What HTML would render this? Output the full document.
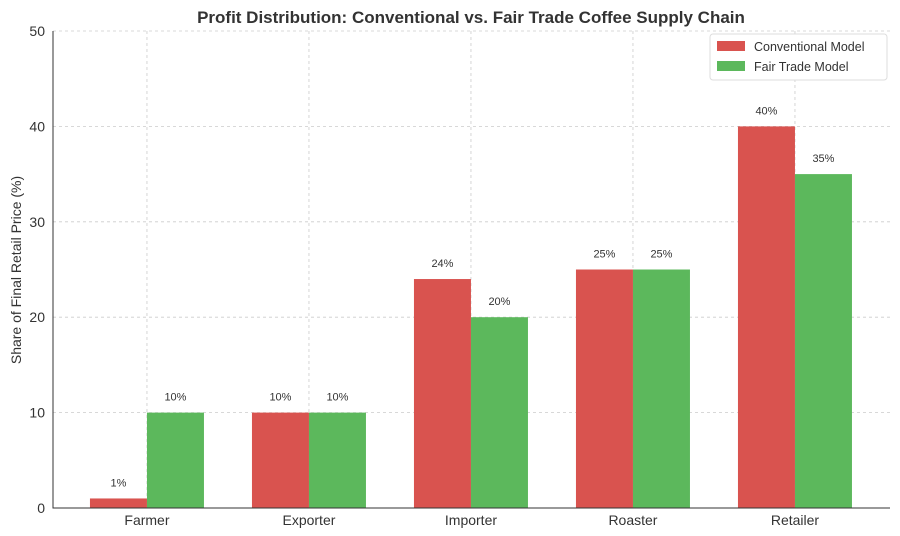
<!DOCTYPE html>
<html><head><meta charset="utf-8"><style>
body{margin:0;background:#fff;}
svg{display:block;font-family:"Liberation Sans","DejaVu Sans",sans-serif;}
</style></head><body>
<svg id="chart" width="900" height="536"></svg>
<script>
const categories=["Farmer","Exporter","Importer","Roaster","Retailer"];
const conventional=[1,10,24,25,40];
const fairTrade=[10,10,20,25,35];
const yTicks=[0,10,20,30,40,50];
const seriesNames=["Conventional Model","Fair Trade Model"];
const NS="http://www.w3.org/2000/svg";
const svg=document.getElementById("chart");
const L=53,R=890,T=31,B=508;
const xs=i=>L+(i+0.58)*162;
const ys=v=>B-(v/50)*(B-T);
const bw=57;
function mk(tag,attrs,parent){const e=document.createElementNS(NS,tag);for(const k in attrs)e.setAttribute(k,attrs[k]);(parent||svg).appendChild(e);return e;}
// grid
yTicks.forEach(t=>{
 const g=mk("line",{x1:L,x2:R,y1:ys(t),y2:ys(t),stroke:"#ccc","stroke-dasharray":"3,3","stroke-width":0.8});
 
 
 const tx=mk("text",{x:L-8,y:ys(t)+5,"text-anchor":"end","font-size":14,fill:"#333"});
 tx.textContent=t;
 
 
});
categories.forEach((c,i)=>{
 const g=mk("line",{x1:xs(i),x2:xs(i),y1:T,y2:B,stroke:"#ccc","stroke-dasharray":"3,3","stroke-width":0.8});
 
 
 const tx=mk("text",{x:xs(i),y:B+17,"text-anchor":"middle","font-size":14,fill:"#333"});
 tx.textContent=c;
 
 
});
// bars
function bars(vals,off,color,name){
 vals.forEach((v,i)=>{
  const x=xs(i)+off;
  const r=mk("rect",{x:x,y:ys(v),width:bw,height:B-ys(v),fill:color});
  
  
  const t=mk("text",{x:x+bw/2,y:ys(v)-12,"text-anchor":"middle","font-size":11,fill:"#333"});
  t.textContent=v+"%";
  
  
 });
}
bars(conventional,-bw,"#d9534f","conventional");
bars(fairTrade,0,"#5cb85c","fair-trade");
// axes
const ax=mk("path",{d:`M${L},${T} L${L},${B} L${R},${B}`,fill:"none",stroke:"#333","stroke-width":1});


const ti=mk("text",{x:471,y:23,"text-anchor":"middle","font-size":17,"font-weight":"bold",fill:"#333"});
ti.textContent="Profit Distribution: Conventional vs. Fair Trade Coffee Supply Chain";


const yl=mk("text",{x:0,y:0,transform:"translate(21,270) rotate(-90)","text-anchor":"middle","font-size":14,fill:"#333"});
yl.textContent="Share of Final Retail Price (%)";


// legend
const lg=mk("rect",{x:710,y:34,width:177,height:46,fill:"#fff",stroke:"#ddd",rx:3});


["#d9534f","#5cb85c"].forEach((c,i)=>{
 const s=mk("rect",{x:717,y:41+i*20,width:28,height:10,fill:c});
 
 
 const t=mk("text",{x:754,y:51+i*20,"font-size":12.5,fill:"#333"});
 t.textContent=seriesNames[i];
 
 
});
</script>
</body></html>
